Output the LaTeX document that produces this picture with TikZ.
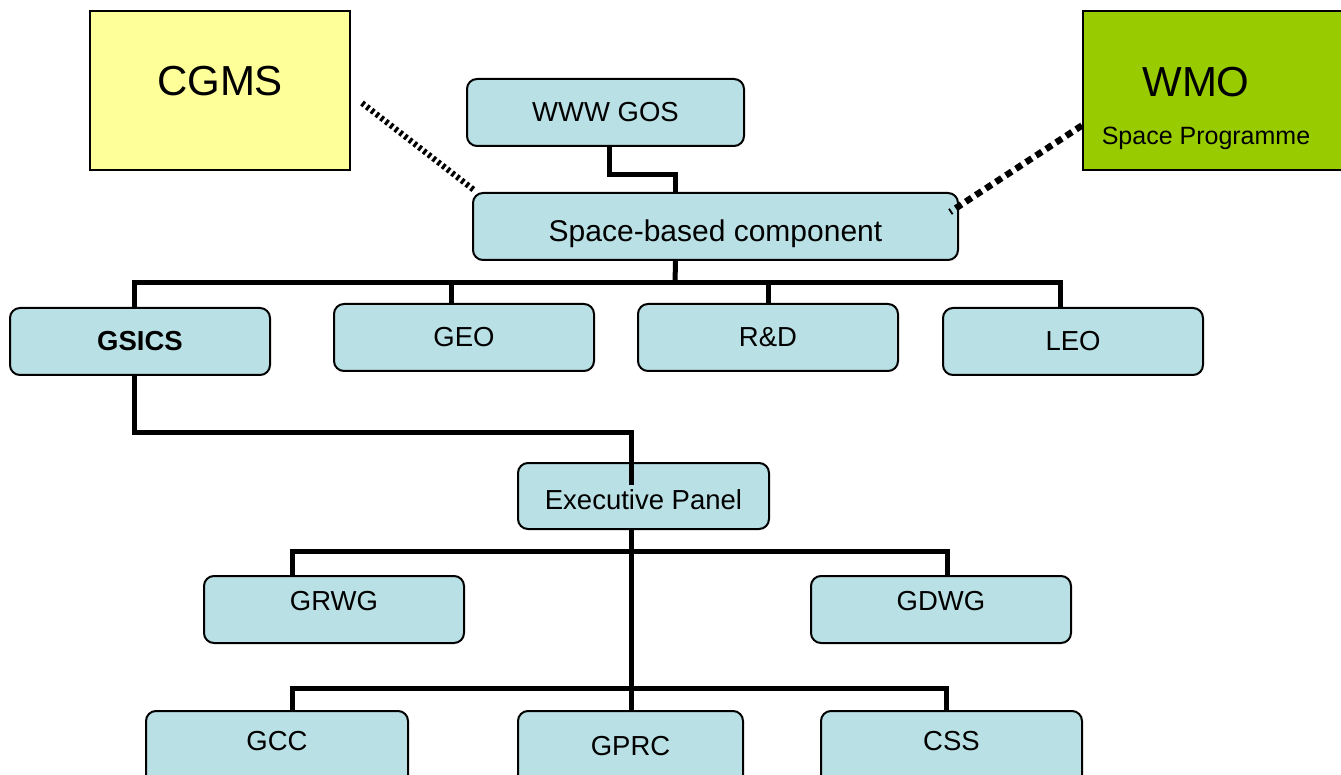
\documentclass[tikz,border=0pt]{standalone}
\usepackage{fontspec}
\setmainfont{Liberation Sans}
\usetikzlibrary{calc}
\definecolor{boxblue}{RGB}{185,224,228}
\definecolor{cgmsyellow}{RGB}{255,255,153}
\definecolor{wmogreen}{RGB}{153,204,0}

\begin{document}
\begin{tikzpicture}[x=1pt,y=-1pt,
  org/.style={draw,line width=2pt,rounded corners=10pt,fill=boxblue,anchor=north west,minimum width=260pt,minimum height=67pt,inner sep=0pt,font=\fontsize{27.5}{31}\selectfont},
  big/.style={draw,line width=2pt,anchor=north west,minimum width=260pt,minimum height=159pt,inner sep=0pt,align=center},
  up/.style={text depth=#1},
  down/.style={text height=#1},
  link/.style={line width=5pt},
  dotlink/.style={line width=6pt,dash pattern=on 3pt off 3pt},
  dashlink/.style={line width=6.5pt,dash pattern=on 7pt off 5pt}]
\useasboundingbox (0,0) rectangle (1341,775);
\clip (0,0) rectangle (1341,775);
\node[big,fill=cgmsyellow,up=20pt,font=\fontsize{42}{46}\selectfont](cgms)at(89,10){CGMS};
\node[big,fill=wmogreen](wmo)at(1082,10){};
\node[font=\fontsize{42}{46}\selectfont](wmoname)at(1196,82){WMO};
\node[font=\fontsize{25}{28}\selectfont](wmoprog)at(1206,138){Space Programme};
\node[org,minimum width=277pt](gos)at(466,78){WWW GOS};
\node[org,minimum width=485pt,down=37pt,font=\fontsize{30}{34}\selectfont](sbc)at(472,192){Space-based component};
\node[org,font=\bfseries\fontsize{27.5}{31}\selectfont](gsics)at(9,307){GSICS};
\node[org](geo)at(333,303){GEO};
\node[org](rd)at(637,303){R\&D};
\node[org](leo)at(942,307){LEO};
\node[org,minimum width=251pt,minimum height=66pt,down=28pt](ep)at(517,462){Executive Panel};
\node[org,up=18pt](grwg)at(203,575){GRWG};
\node[org,up=18pt](gdwg)at(810,575){GDWG};
\node[org,minimum width=262pt,minimum height=80pt,up=20pt](gcc)at(145,710){GCC};
\node[org,minimum width=225pt,minimum height=80pt,up=10pt](gprc)at(517,710){GPRC};
\node[org,minimum width=261pt,minimum height=80pt,up=20pt](css)at(820,710){CSS};
\coordinate(bus)at(675,283);
\coordinate(wgbus)at(630,551);
\coordinate(bbus)at(630,688);
\draw[link]([xshift=4]gos.south)|-([xshift=-40,yshift=17]sbc.north)--([xshift=-40]sbc.north);
\draw[link]([xshift=-40]sbc.south)--(bus);
\draw[link]([xshift=-6]gsics.north)|-(bus)-|([xshift=-13]leo.north);
\draw[link]([xshift=-13]geo.north)--([xshift=-13]geo.north|-bus)(rd.north)--(rd.north|-bus);
\draw[link]([xshift=-6]gsics.south)--++(0,56)-|([xshift=-12,yshift=-23]ep.north);
\draw[link]([xshift=-12]ep.south)--([xshift=-12]ep.south|-gprc.north);
\draw[link]([xshift=-42]grwg.north)|-(wgbus)-|([xshift=6]gdwg.north);
\draw[link]([xshift=15]gcc.north)|-(bbus)-|([xshift=-5]css.north);
\draw[dotlink]([xshift=11,yshift=-12.5]cgms.east)--([xshift=2,yshift=2]sbc.north west);
\draw[dashlink]([yshift=-35]wmo.west)--([xshift=-9,yshift=-20]sbc.north east);
\end{tikzpicture}
\end{document}
